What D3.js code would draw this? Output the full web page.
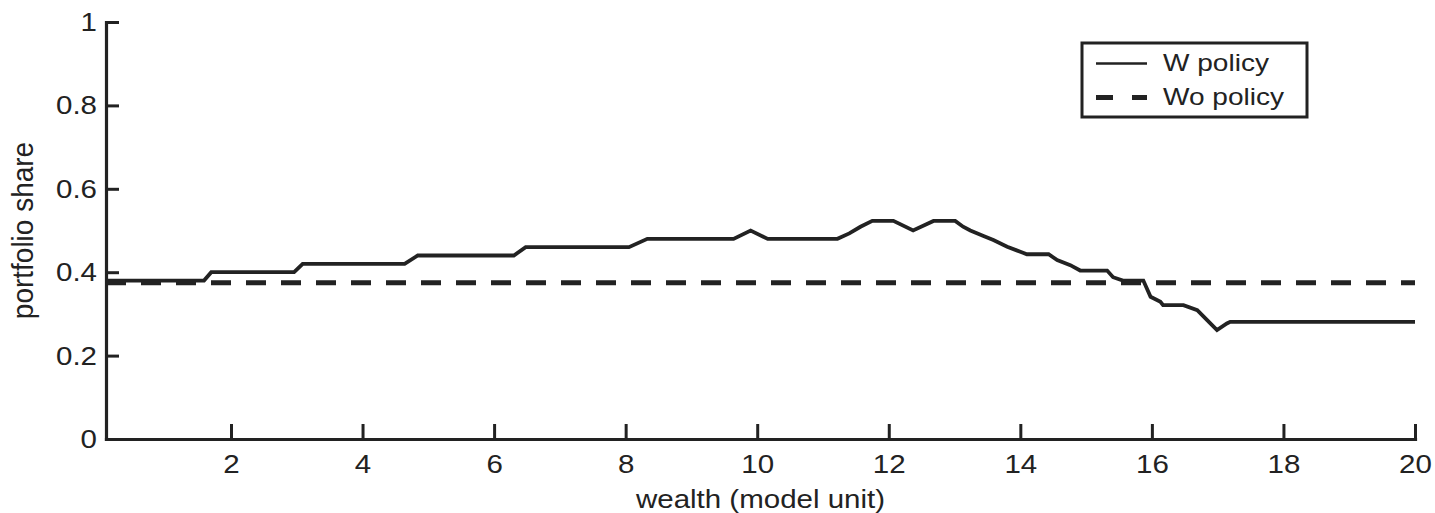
<!DOCTYPE html>
<html>
<head>
<meta charset="utf-8">
<script src="https://cdn.jsdelivr.net/npm/d3@7/dist/d3.min.js"></script>
<style>
  html, body { margin: 0; padding: 0; background: #fff; }
  svg { display: block; }
  text { font-family: "Liberation Sans", Arial, Helvetica, sans-serif; fill: #222; }
</style>
</head>
<body>
<svg id="chart" width="1435" height="513"></svg>
<script>
// Portfolio share as a function of wealth, with and without the policy.
const wealthW = [0.1, 1.59, 1.70, 2.96, 3.09, 4.64, 4.84, 6.30, 6.48, 8.05, 8.33, 9.64, 9.90, 10.16,
  11.22, 11.40, 11.57, 11.75, 12.07, 12.37, 12.68, 13.01, 13.13, 13.24, 13.44, 13.59, 13.80, 14.00,
  14.10, 14.43, 14.56, 14.76, 14.91, 15.32, 15.41, 15.56, 15.87, 15.98, 16.13, 16.17, 16.48, 16.69,
  16.84, 16.99, 17.14, 17.19, 20];
const shareW = [0.38, 0.38, 0.40, 0.40, 0.42, 0.42, 0.44, 0.44, 0.46, 0.46, 0.48, 0.48, 0.50, 0.48,
  0.48, 0.493, 0.509, 0.523, 0.523, 0.50, 0.523, 0.523, 0.509, 0.50, 0.487, 0.477, 0.461, 0.449,
  0.443, 0.443, 0.429, 0.417, 0.404, 0.404, 0.388, 0.38, 0.38, 0.341, 0.329, 0.321, 0.321, 0.309,
  0.285, 0.261, 0.277, 0.281, 0.281];
const wealthWo = [0.1, 20];
const shareWo = [0.375, 0.375];

const xTicks = [2, 4, 6, 8, 10, 12, 14, 16, 18, 20];
const yTicks = [0, 0.2, 0.4, 0.6, 0.8, 1];
const seriesNames = ["W policy", "Wo policy"];

const ink = "#222";
const sx = 1.18; // wide glyphs

const svg = d3.select("#chart");
const x = d3.scaleLinear().domain([0.1, 20]).range([106, 1415]);
const y = d3.scaleLinear().domain([0, 1]).range([439, 22]);

// axes
const xAxis = svg.append("g")
  .attr("transform", `translate(0,${y(0)})`)
  .call(d3.axisBottom(x).tickValues(xTicks).tickSizeInner(-15).tickSizeOuter(0).tickFormat(d3.format("")));
const yAxis = svg.append("g")
  .attr("transform", `translate(${x(0.1)},0)`)
  .call(d3.axisLeft(y).tickValues(yTicks).tickSizeInner(-13).tickSizeOuter(0).tickFormat(d3.format("")));

[xAxis, yAxis].forEach(g => {
  g.select(".domain").attr("stroke", ink).attr("stroke-width", 3.2).attr("stroke-linecap", "square");
  g.selectAll(".tick line").attr("stroke", ink).attr("stroke-width", 3);
  g.selectAll(".tick text").attr("font-size", 25).attr("fill", ink);
});
xAxis.selectAll(".tick text")
  .attr("y", 0).attr("dy", "0.71em")
  .attr("transform", `translate(0,16) scale(${sx},1)`);
yAxis.selectAll(".tick text")
  .attr("x", 0).attr("dy", "0.34em")
  .attr("transform", `translate(-9,0) scale(${sx},1)`);

// axis titles
svg.append("text")
  .attr("transform", `translate(${(x.range()[0] + x.range()[1]) / 2},508) scale(${sx},1)`)
  .attr("text-anchor", "middle").attr("font-size", 25)
  .text("wealth (model unit)");
svg.append("text")
  .attr("transform", `translate(33,${(y.range()[0] + y.range()[1]) / 2}) scale(1.05,1) rotate(-90)`)
  .attr("text-anchor", "middle").attr("font-size", 28)
  .text("portfolio share");

// series
const line = d3.line().x(d => x(d[0])).y(d => y(d[1]));
svg.append("path")
  .datum(d3.zip(wealthWo, shareWo))
  .attr("d", line).attr("fill", "none")
  .attr("stroke", ink).attr("stroke-width", 5).attr("stroke-dasharray", "20,15");
svg.append("path")
  .datum(d3.zip(wealthW, shareW))
  .attr("d", line).attr("fill", "none")
  .attr("stroke", ink).attr("stroke-width", 3.8).attr("stroke-linejoin", "miter");

// legend
const lg = svg.append("g").attr("transform", "translate(1082,43)");
lg.append("rect").attr("width", 225).attr("height", 74)
  .attr("fill", "#fff").attr("stroke", ink).attr("stroke-width", 3);
const rows = [
  { name: seriesNames[0], cy: 20.5, width: 2.5, dash: null },
  { name: seriesNames[1], cy: 54.5, width: 5, dash: "17,19" }
];
rows.forEach(r => {
  lg.append("line").attr("x1", 14).attr("x2", 65).attr("y1", r.cy).attr("y2", r.cy)
    .attr("stroke", ink).attr("stroke-width", r.width).attr("stroke-dasharray", r.dash);
  lg.append("text")
    .attr("transform", `translate(81,${r.cy + 7}) scale(1.22,1)`)
    .attr("font-size", 23)
    .text(r.name);
});
</script>
</body>
</html>
